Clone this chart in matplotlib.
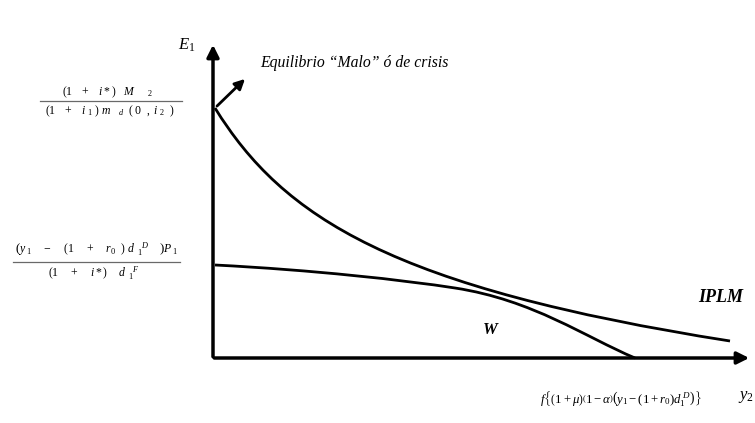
import matplotlib.pyplot as plt
from matplotlib.path import Path
from matplotlib.patches import PathPatch

plt.rcParams['mathtext.fontset'] = 'custom'
plt.rcParams['mathtext.rm'] = 'Liberation Serif'
plt.rcParams['mathtext.it'] = 'Liberation Serif:italic'
plt.rcParams['mathtext.bf'] = 'Liberation Serif:bold'
plt.rcParams['font.family'] = 'Liberation Serif'

# curva IPLM: un tramo Bezier cúbico (inicio, dos controles, fin)
iplm_x = [2, 70, 180, 517]
iplm_y = [250, 140, 70, 17]

# curva W: dos tramos Bezier cúbicos encadenados
w_x = [2, 100, 190, 242, 320, 372, 422]
w_y = [93, 88, 78, 70, 58, 21, 0]

# extremos de los ejes
y_axis_top = 316
x_axis_end = 539

fig = plt.figure(figsize=(7.55, 4.23), dpi=100)
ax = fig.add_axes([0, 0, 1, 1])
ax.set_xlim(-213, 542)
ax.set_ylim(-65, 358)
ax.axis('off')


def bezier(xs, ys):
    codes = [Path.MOVETO] + [Path.CURVE4] * (len(xs) - 1)
    return PathPatch(Path(list(zip(xs, ys)), codes), fill=False, lw=2, edgecolor='black',
                     capstyle='butt')


# ejes con flecha
ax.annotate('', xy=(0, y_axis_top), xytext=(0, -1.5),
            arrowprops=dict(arrowstyle='-|>', lw=2.5, color='black', mutation_scale=18))
ax.annotate('', xy=(x_axis_end, 0), xytext=(-1.5, 0),
            arrowprops=dict(arrowstyle='-|>', lw=2.5, color='black', mutation_scale=18))

ax.add_patch(bezier(iplm_x, iplm_y))
ax.add_patch(bezier(w_x, w_y))

# flecha del equilibrio malo
ax.annotate('', xy=(34, 281), xytext=(iplm_x[0], iplm_y[0]),
            arrowprops=dict(arrowstyle='-|>', lw=2, color='black', mutation_scale=15))
ax.text(47, 295, 'Equilibrio \u201cMalo\u201d \u00f3 de crisis', fontsize=11.3,
        style='italic', va='center', ha='left')

ax.text(-26, 313, r'$E_{\mathit{1}}$', fontsize=12, ha='center', va='center')
ax.text(525, -39, r'$y_2$', fontsize=12, ha='left', va='center')

ax.text(508, 61, 'IPLM', fontsize=13, style='italic', weight='bold', ha='center', va='center')
ax.text(277, 28, 'W', fontsize=12, style='italic', weight='bold', ha='center', va='center')

# valor en el eje horizontal
ax.text(327, -40,
        r'$f\left\{\left(1+\mu\right)\left(1-\alpha\right)\left(y_1-(1+r_0)d_1^{\ D}\right)\right\}$',
        fontsize=9.2, ha='left', va='center')

# fracción del equilibrio malo
ax.text(-105, 266, r'$(1\ \ \ +\ \ \ i*)\ \ \ M\ \ \ \ \ {}_{2}$', fontsize=8.5, ha='center', va='center')
ax.plot([-173, -31], [257, 257], color='dimgray', lw=0.9)
ax.text(-103, 247, r'$(1\ \ \ +\ \ \ i_{\ 1}\ )\ m\ \ \ {}_{d}\ \ (\ 0\ \ ,\ i_{\ 2}\ \ )$', fontsize=8.5,
        ha='center', va='center')

# fracción del intercepto de W
ax.text(-116, 109,
        r'$\left(y_{\ 1}\ \ \ \ -\ \ \ \ (1\ \ \ \ +\ \ \ \ r_{0}\ \ )\ d_{\ \ 1}^{\ \ \ \ D}\ \ \ \ \right)P_{\ 1}$',
        fontsize=8.5, ha='center', va='center')
ax.plot([-200, -33], [96, 96], color='dimgray', lw=0.9)
ax.text(-119, 85, r'$(1\ \ \ \ +\ \ \ \ i*)\ \ \ \ d_{\ \ 1}^{\ \ \ \ F}$', fontsize=8.5,
        ha='center', va='center')

fig.savefig('out.png', dpi=100)
